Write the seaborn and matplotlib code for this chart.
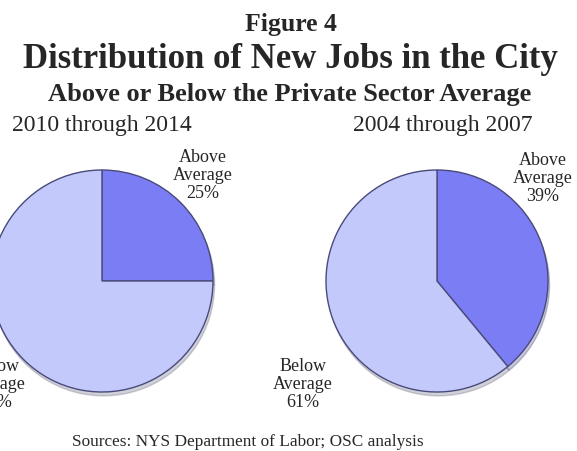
import matplotlib
matplotlib.use("Agg")
import matplotlib.pyplot as plt
import seaborn as sns

# chart data
periods = ["2010 through 2014", "2004 through 2007"]
categories = ["Above\nAverage", "Below\nAverage"]
shares_2010_2014 = [25, 75]
shares_2004_2007 = [39, 61]

# label placement per pie, in pie-radius units (Above, Below)
label_pos = [
    [(0.91, 0.95), (-0.955, -0.93)],
    [(0.955, 0.92), (-1.21, -0.93)],
]

sns.set_theme(style="white")
plt.rcParams["font.family"] = ["Liberation Serif", "DejaVu Serif"]

colors = sns.color_palette(["#7b7df5", "#c3c9fb"])

W, H = 577, 451
fig = plt.figure(figsize=(W / 100, H / 100), dpi=100)


def fx(px):
    return px / W


def fy(py):
    return 1 - py / H


# header
fig.text(fx(291), fy(31), "Figure 4", ha="center", va="baseline",
         fontsize=18.5, fontweight="bold")
fig.text(fx(290), fy(68), "Distribution of New Jobs in the City", ha="center",
         va="baseline", fontsize=25, fontweight="bold")
fig.text(fx(290), fy(101), "Above or Below the Private Sector Average",
         ha="center", va="baseline", fontsize=19, fontweight="bold")

# pies
centers = [(102, 281), (437, 281)]
radius = 111
year_x = [12, 353]
all_shares = [shares_2010_2014, shares_2004_2007]

for i, shares in enumerate(all_shares):
    cx, cy = centers[i]
    ax = fig.add_axes([fx(cx - radius), fy(cy + radius),
                       2 * radius / W, 2 * radius / H])
    ax.pie(shares, colors=colors, startangle=90, counterclock=False,
           wedgeprops=dict(edgecolor="#4a4a7a", linewidth=1.0),
           shadow=dict(ox=0.01, oy=-0.025, shade=0.5, alpha=0.3))
    ax.set_xlim(-1, 1)
    ax.set_ylim(-1, 1)
    ax.axis("off")
    for j, (name, val) in enumerate(zip(categories, shares)):
        lx, ly = label_pos[i][j]
        ax.text(lx, ly, f"{name}\n{val}%", ha="center", va="center",
                fontsize=13, linespacing=1.08, clip_on=False)
    fig.text(fx(year_x[i]), fy(131), periods[i], ha="left", va="baseline",
             fontsize=17)

fig.text(fx(72), fy(446), "Sources: NYS Department of Labor; OSC analysis",
         ha="left", va="baseline", fontsize=12.4)

fig.savefig("out.png", dpi=100)
